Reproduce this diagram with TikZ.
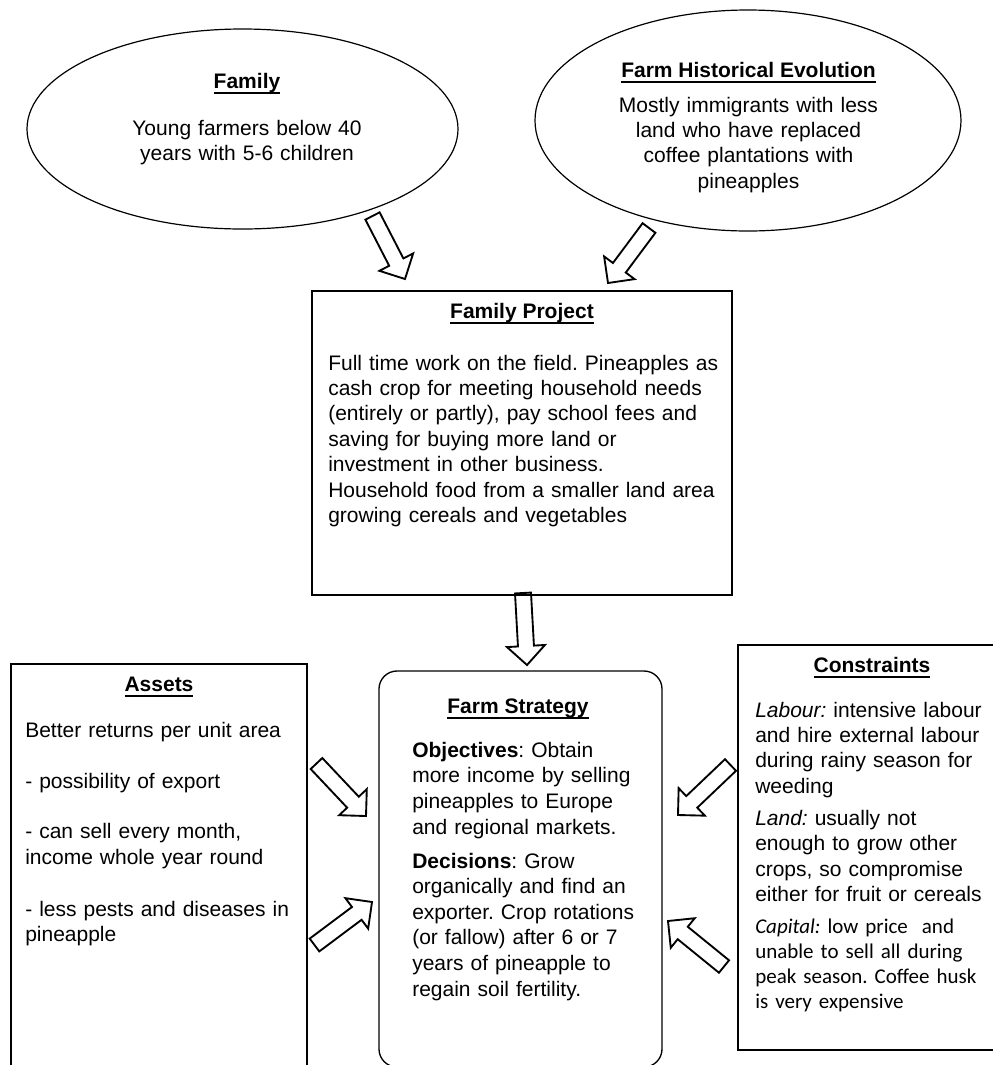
\documentclass[tikz,border=0pt]{standalone}
\usepackage{fontspec}
\setmainfont{Liberation Sans}
\newfontfamily\calibrifont{Carlito}
\usetikzlibrary{shapes.geometric,calc}
\frenchspacing
\newcommand\ulbf[1]{\setbox0\hbox{\bfseries #1}\rlap{\rule[-4.2pt]{\wd0}{1.3pt}}\box0}
\newcommand\blkarrow[3]{%
  \coordinate (#1b) at ($(#3)!14.25pt!(#2)$);
  \draw[blockarr] ($(#2)!6pt!90:(#3)$) -- ($(#1b)!6pt!90:(#3)$) -- ($(#1b)!14.25pt!90:(#3)$) -- (#3) -- ($(#1b)!14.25pt!-90:(#3)$) -- ($(#1b)!6pt!-90:(#3)$) -- ($(#2)!6pt!-90:(#3)$) -- cycle;}
\tikzset{
  txt/.style={font=\fontsize{15.75}{19.1}\selectfont\frenchspacing, inner sep=0pt, text width=300pt, align=left, anchor=base west},
  ctxt/.style={font=\fontsize{15.75}{19.1}\selectfont\frenchspacing, inner sep=0pt, text width=320pt, align=center, anchor=base},
  ttl/.style={font=\fontsize{15.75}{19.1}\selectfont, inner sep=0pt, anchor=base},
  bubble/.style={draw, ellipse, line width=0.9pt, inner sep=0pt},
  boxnode/.style={draw, inner sep=0pt, line width=1.5pt},
  blockarr/.style={draw, fill=white, line width=1.4pt, line join=miter},
}
\begin{document}
\begin{tikzpicture}[x=0.75pt,y=-0.75pt]
\useasboundingbox (0,0) rectangle (993,1065);
\fill[white] (0,0) rectangle (993,1065);

% arrows (drawn first so box borders stay on top)
\coordinate (a1s) at (372.5,216); \coordinate (a1e) at (405,279);
\coordinate (a2s) at (649,228);   \coordinate (a2e) at (608,283);
\coordinate (a3s) at (523,593);   \coordinate (a3e) at (527,665);
\coordinate (a4s) at (316.5,763.5); \coordinate (a4e) at (366,816);
\coordinate (a5s) at (314.5,945); \coordinate (a5e) at (372,902);
\coordinate (a6s) at (730.5,765); \coordinate (a6e) at (678,815);
\coordinate (a7s) at (724,966.5); \coordinate (a7e) at (668,921);
\blkarrow{a1}{a1s}{a1e}
\blkarrow{a2}{a2s}{a2e}
\blkarrow{a3}{a3s}{a3e}
\blkarrow{a4}{a4s}{a4e}
\blkarrow{a5}{a5s}{a5e}
\blkarrow{a6}{a6s}{a6e}
\blkarrow{a7}{a7s}{a7e}

% Family ellipse
\node[bubble, minimum width=323.25pt, minimum height=150pt] (family) at (242.5,129) {};
\node[ttl] (familyT) at (247,88) {\ulbf{Family}};
\node[ctxt] (familyB) at (247,135) {Young farmers below 40\\years with 5-6 children};

% Farm Historical Evolution ellipse
\node[bubble, minimum width=319.5pt, minimum height=165.75pt] (fhe) at (748,120.5) {};
\node[ttl] (fheT) at (748.5,77) {\ulbf{Farm Historical Evolution}};
\node[ctxt, font=\fontsize{15.75}{19}\selectfont\frenchspacing] (fheB) at (748.5,112) {Mostly immigrants with less\\land who have replaced\\coffee plantations with\\pineapples};

% Family Project
\node[boxnode, line width=2pt, minimum width=315pt, minimum height=228pt] (fp) at (522,443) {};
\node[ttl] (fpT) at (522,318) {\ulbf{Family Project}};
\node[txt] (fpB) at (328,370) {Full time work on the field. Pineapples as\\
cash crop for meeting household needs\\
(entirely or partly), pay school fees and\\
saving for buying more land or\\
investment in other business.\\
Household food from a smaller land area\\
growing cereals and vegetables};

% Farm Strategy
\node[draw, line width=1pt, rounded corners=13.5pt, inner sep=0pt, minimum width=212.25pt, minimum height=297pt] (fs) at (520.5,869) {};
\node[ttl] (fsT) at (518,713) {\ulbf{Farm Strategy}};
\node[txt, font=\fontsize{15.75}{19.4}\selectfont\frenchspacing] (fsO) at (412,757) {\textbf{Objectives}: Obtain\\more income by selling\\pineapples to Europe\\and regional markets.};
\node[txt, font=\fontsize{15.75}{19.2}\selectfont\frenchspacing] (fsD) at (412,868) {\textbf{Decisions}: Grow\\organically and find an\\exporter. Crop rotations\\(or fallow) after 6 or 7\\years of pineapple to\\regain soil fertility.};

% Assets
\node[boxnode, minimum width=222pt, minimum height=315.75pt] (assets) at (159,874.5) {};
\node[ttl] (assetsT) at (159,691) {\ulbf{Assets}};
\node[txt] (as1) at (25,737) {Better returns per unit area};
\node[txt] (as2) at (25,788) {- possibility of export};
\node[txt, font=\fontsize{15.75}{20}\selectfont\frenchspacing] (as3) at (25,838) {- can sell every month,\\income whole year round};
\node[txt] (as4) at (25,916) {- less pests and diseases in\\pineapple};

% Constraints
\node[boxnode, minimum width=204pt, minimum height=303.75pt] (cons) at (874,847.5) {};
\node[ttl] (consT) at (872,672) {\ulbf{Constraints}};
\node[txt, font=\fontsize{15.75}{19}\selectfont\frenchspacing] (cs1) at (755,717) {\textit{Labour:} intensive labour\\and hire external labour\\during rainy season for\\weeding};
\node[txt, font=\fontsize{15.75}{19.2}\selectfont\frenchspacing] (cs2) at (755,825) {\textit{Land:} usually not\\enough to grow other\\crops, so compromise\\either for fruit or cereals};
\node[txt, font=\calibrifont\fontsize{15.75}{18.75}\selectfont\frenchspacing] (cs3) at (755,933) {\textit{Capital:} low price\ \ and\\unable to sell all during\\peak season. Coffee husk\\is very expensive};
\end{tikzpicture}
\end{document}
